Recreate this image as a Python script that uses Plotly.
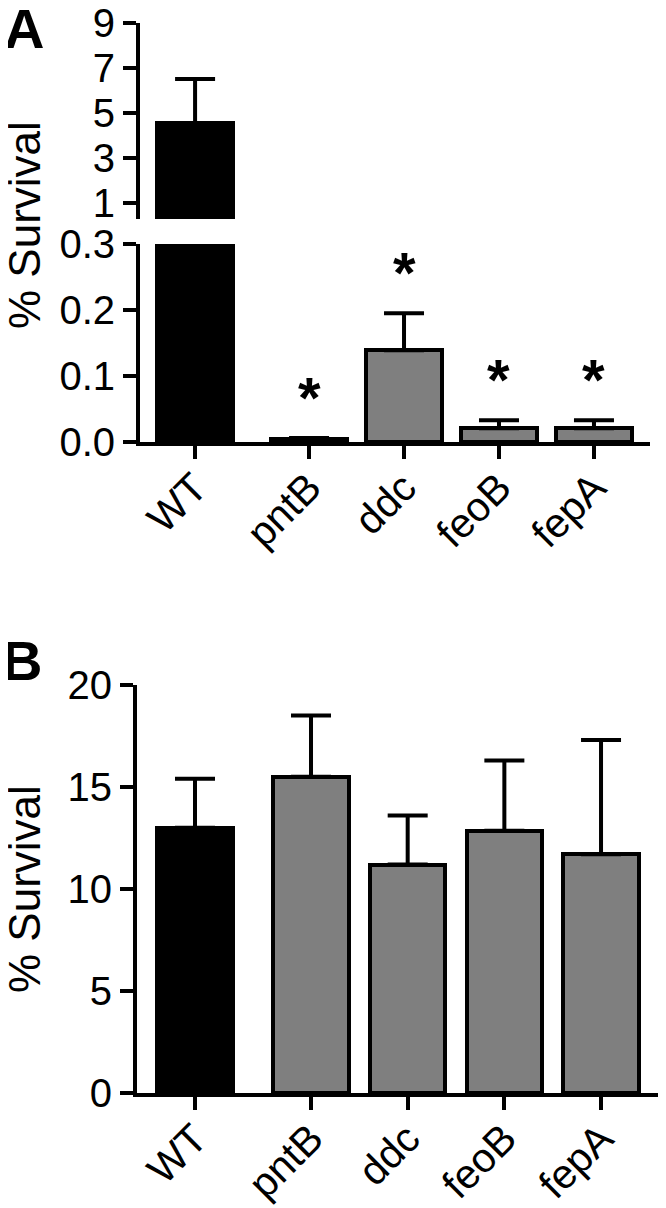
import plotly.graph_objects as go

categories = ["WT", "pntB", "ddc", "feoB", "fepA"]
a_mean = [4.55, 0.004, 0.139, 0.021, 0.021]
a_sem = [1.96, 0.002, 0.056, 0.012, 0.012]
a_sig = ["", "*", "*", "*", "*"]
b_mean = [13.0, 15.5, 11.2, 12.85, 11.7]
b_sem = [2.4, 3.0, 2.4, 3.45, 5.6]
bar_colors = ["#000000", "#7f7f7f", "#7f7f7f", "#7f7f7f", "#7f7f7f"]
a_low_range = [0, 0.3]
a_high_range = [0.29, 9]
a_low_ticks = [0, 0.1, 0.2, 0.3]
a_high_ticks = [1, 3, 5, 7, 9]
b_ticks = [0, 5, 10, 15, 20]

VW, VH = 666, 1208      # browser viewport
PAD = 8                 # default page body margin
W, H = VW - PAD, VH - PAD
FONT = "Liberation Sans, Arial, sans-serif"

# x positions: WT separated from mutants by a slightly larger gap
xpos = [0.0] + [1.2 + i for i in range(len(categories) - 1)]


def px_x(p):
    return (p - PAD) / W


def px_y(p):
    return 1 - (p - PAD) / H


fig = go.Figure()


def bars(idx, y, err, xa, ya, width):
    return go.Bar(
        x=[xpos[i] for i in idx], y=[y[i] for i in idx],
        xaxis=xa, yaxis=ya, width=width,
        marker=dict(color=[bar_colors[i] for i in idx],
                    line=dict(color="black", width=4)),
        error_y=dict(type="data", symmetric=False,
                     array=[err[i] for i in idx],
                     arrayminus=[0] * len(idx), color="black",
                     thickness=4, width=20),
        showlegend=False, hoverinfo="skip",
    )


all_idx = list(range(len(categories)))
high_idx = [i for i in all_idx if a_mean[i] > a_high_range[0]]
fig.add_trace(bars(all_idx, a_mean, a_sem, "x", "y", 0.8))
fig.add_trace(bars(high_idx, a_mean, a_sem, "x2", "y2", 0.8))
fig.add_trace(bars(all_idx, b_mean, b_sem, "x3", "y3", 0.78))

axis_common = dict(showline=True, linecolor="black", linewidth=4,
                   ticks="outside", tickwidth=4, tickcolor="black",
                   ticklen=13, showgrid=False, zeroline=False,
                   automargin=False, ticklabeloverflow="allow",
                   tickfont=dict(family=FONT, size=40, color="black"))
xaxis_extra = dict(tickfont=dict(family=FONT, size=41, color="black"),
                   ticklabelstandoff=-12)

fig.update_layout(
    template="none",
    width=W, height=H,
    margin=dict(l=0, r=0, t=0, b=0),
    paper_bgcolor="white", plot_bgcolor="white",
    bargap=0,
    xaxis=dict(domain=[px_x(140), px_x(650)], range=[-0.58, 4.79],
               anchor="y", tickvals=xpos, ticktext=categories,
               tickangle=-45, **{**axis_common, **xaxis_extra}),
    yaxis=dict(domain=[px_y(442), px_y(244)], range=a_low_range,
               anchor="x", tickvals=a_low_ticks, tickformat=".1f",
               **axis_common),
    xaxis2=dict(domain=[px_x(140), px_x(650)], range=[-0.58, 4.79],
                anchor="y2", visible=False, showline=False),
    yaxis2=dict(domain=[px_y(219), px_y(23)], range=a_high_range,
                anchor="x2", tickvals=a_high_ticks, **axis_common),
    xaxis3=dict(domain=[px_x(137), px_x(660)], range=[-0.6, 4.81],
                anchor="y3", tickvals=xpos, ticktext=categories,
                tickangle=-45, **{**axis_common, **xaxis_extra}),
    yaxis3=dict(domain=[px_y(1093), px_y(685)], range=[0, 20],
                anchor="x3", tickvals=b_ticks, **axis_common),
)

annotations = []
for xp, m, s, sig in zip(xpos, a_mean, a_sem, a_sig):
    if sig:
        annotations.append(dict(
            x=xp, y=m + s, xref="x", yref="y", text="<b>" + sig + "</b>",
            showarrow=False, yanchor="bottom", yshift=6,
            font=dict(family=FONT, size=58, color="black")))

for label, yc in (("% Survival", 225), ("% Survival", 889)):
    annotations.append(dict(
        x=px_x(24), y=px_y(yc), xref="paper", yref="paper", text=label,
        textangle=-90, showarrow=False, xanchor="center", yanchor="middle",
        font=dict(family=FONT, size=44, color="black")))

for letter, (lx, ly) in (("A", (24, 28)), ("B", (22, 660))):
    annotations.append(dict(
        x=px_x(lx), y=px_y(ly), xref="paper", yref="paper",
        text="<b>" + letter + "</b>", showarrow=False,
        xanchor="center", yanchor="middle",
        font=dict(family=FONT, size=56, color="black")))

fig.update_layout(annotations=annotations)
fig.write_html("out.html")
